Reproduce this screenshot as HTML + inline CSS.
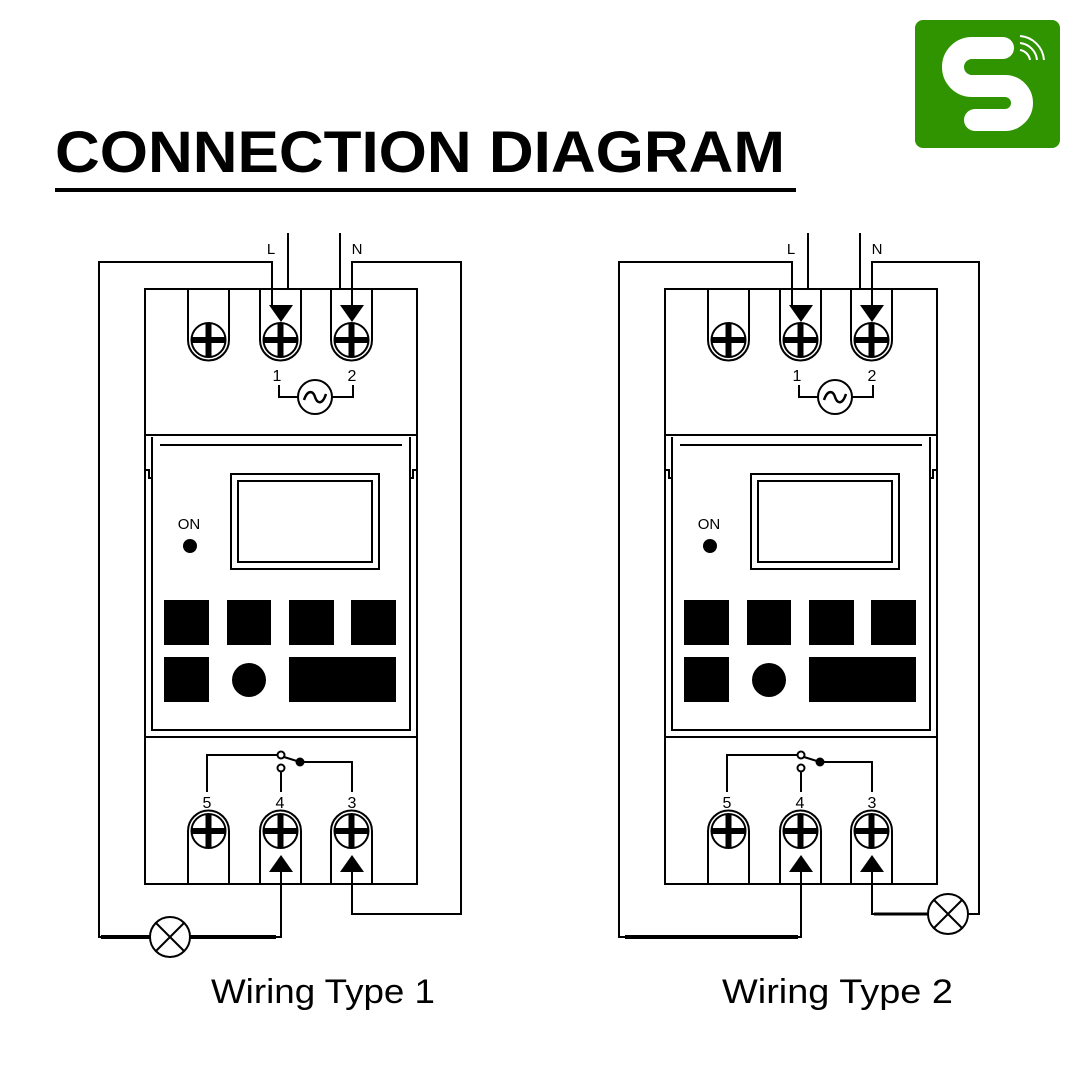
<!DOCTYPE html>
<html><head><meta charset="utf-8"><style>
html,body{margin:0;padding:0;background:#fff;width:1080px;height:1080px;overflow:hidden}
svg{display:block}
</style></head><body>
<svg width="1080" height="1080" viewBox="0 0 1080 1080" xmlns="http://www.w3.org/2000/svg" font-family="Liberation Sans, sans-serif">
<defs>
<g id="dev" stroke="#000" fill="none" stroke-width="2">
  <rect x="145" y="289" width="272" height="595"/>
  <line x1="288" y1="233" x2="288" y2="289"/>
  <line x1="340" y1="233" x2="340" y2="289"/>
  <text x="271" y="254" font-size="15" fill="#000" stroke="none" text-anchor="middle">L</text>
  <text x="357" y="254" font-size="15" fill="#000" stroke="none" text-anchor="middle">N</text>
  <g id="tt">
    <path d="M188 289 V340 A20.5 20.5 0 0 0 229 340 V289"/>
    <circle cx="208.5" cy="340" r="17"/>
    <line x1="191" y1="340" x2="226" y2="340" stroke-width="6"/>
    <line x1="208.5" y1="323" x2="208.5" y2="357" stroke-width="6"/>
  </g>
  <use href="#tt" x="72"/>
  <use href="#tt" x="143"/>
  <polygon points="269,305 293,305 281,322" fill="#000" stroke="none"/>
  <polygon points="340,305 364,305 352,322" fill="#000" stroke="none"/>
  <text x="277" y="381" font-size="16" fill="#000" stroke="none" text-anchor="middle">1</text>
  <text x="352" y="381" font-size="16" fill="#000" stroke="none" text-anchor="middle">2</text>
  <path d="M279 385 V397 H298 M332 397 H353 V385"/>
  <circle cx="315" cy="397" r="17"/>
  <path d="M304 400 C308 388 314 392 315 397 C317 403 322 406 326 394" stroke-width="2.5"/>
  <line x1="145" y1="435" x2="417" y2="435"/>
  <line x1="160" y1="445" x2="402" y2="445"/>
  <path d="M152 437 V478 H149 V470 H145 M410 437 V478 H413 V470 H417"/>
  <path d="M152 478 V730 H410 V478"/>
  <line x1="145" y1="737" x2="417" y2="737"/>
  <rect x="231" y="474" width="148" height="95"/>
  <rect x="238" y="481" width="134" height="81"/>
  <text x="189" y="529" font-size="15" fill="#000" stroke="none" text-anchor="middle">ON</text>
  <circle cx="190" cy="546" r="7" fill="#000" stroke="none"/>
  <g fill="#000" stroke="none">
    <rect x="164" y="600" width="45" height="45"/>
    <rect x="227" y="600" width="44" height="45"/>
    <rect x="289" y="600" width="45" height="45"/>
    <rect x="351" y="600" width="45" height="45"/>
    <rect x="164" y="657" width="45" height="45"/>
    <circle cx="249" cy="680" r="17"/>
    <rect x="289" y="657" width="107" height="45"/>
  </g>
  <circle cx="281" cy="755" r="3.5"/>
  <circle cx="281" cy="768" r="3.5"/>
  <circle cx="300" cy="762" r="3.5" fill="#000"/>
  <path d="M207 792 V755 H277 M284 757 L300 762 H352 V792 M281 772 V792"/>
  <text x="207" y="808" font-size="16" fill="#000" stroke="none" text-anchor="middle">5</text>
  <text x="280" y="808" font-size="16" fill="#000" stroke="none" text-anchor="middle">4</text>
  <text x="352" y="808" font-size="16" fill="#000" stroke="none" text-anchor="middle">3</text>
  <g id="bt">
    <path d="M188 884 V831 A20.5 20.5 0 0 1 229 831 V884"/>
    <circle cx="208.5" cy="831" r="17"/>
    <line x1="191" y1="831" x2="226" y2="831" stroke-width="6"/>
    <line x1="208.5" y1="814" x2="208.5" y2="848" stroke-width="6"/>
  </g>
  <use href="#bt" x="72"/>
  <use href="#bt" x="143"/>
  <polygon points="269,872 293,872 281,855" fill="#000" stroke="none"/>
  <polygon points="340,872 364,872 352,855" fill="#000" stroke="none"/>
</g>
</defs>

<text x="55" y="172" font-size="58" font-weight="bold" textLength="730" lengthAdjust="spacingAndGlyphs">CONNECTION DIAGRAM</text>
<rect x="55" y="188" width="741" height="4" fill="#000"/>

<rect x="915" y="20" width="145" height="128" rx="8" fill="#2f9400"/>
<path d="M1003 48 H972 A19 19 0 0 0 972 86 H1005 A17 17 0 0 1 1005 120 H975" fill="none" stroke="#fff" stroke-width="22" stroke-linecap="round"/>
<g fill="none" stroke="#fff" stroke-width="2">
<path d="M1020 50 A12 12 0 0 1 1030 60"/><path d="M1020 43 A19 19 0 0 1 1037 60"/><path d="M1020 36 A26 26 0 0 1 1044 60"/>
</g>

<use href="#dev"/>
<g stroke="#000" fill="none" stroke-width="2">
  <path d="M272 305 V262 H99 V937 H150"/>
  <path d="M352 305 V262 H461 V914 H352 V872"/>
  <path d="M281 872 V937 H190"/>
  <line x1="101" y1="937" x2="150" y2="937" stroke-width="4"/>
  <line x1="190" y1="937" x2="276" y2="937" stroke-width="4"/>
  <circle cx="170" cy="937" r="20"/>
  <path d="M156 923 L184 951 M184 923 L156 951"/>
</g>

<use href="#dev" x="520"/>
<g stroke="#000" fill="none" stroke-width="2">
  <path d="M792 305 V262 H619 V937 H801 V872"/>
  <line x1="625" y1="937" x2="798" y2="937" stroke-width="4"/>
  <path d="M872 305 V262 H979 V914 H968"/>
  <path d="M872 872 V914 H928"/>
  <line x1="874" y1="914" x2="928" y2="914" stroke-width="3"/>
  <circle cx="948" cy="914" r="20"/>
  <path d="M934 900 L962 928 M962 900 L934 928"/>
</g>

<text x="211" y="1003" font-size="34" textLength="224" lengthAdjust="spacingAndGlyphs">Wiring Type 1</text>
<text x="722" y="1003" font-size="34" textLength="231" lengthAdjust="spacingAndGlyphs">Wiring Type 2</text>
</svg>
</body></html>
